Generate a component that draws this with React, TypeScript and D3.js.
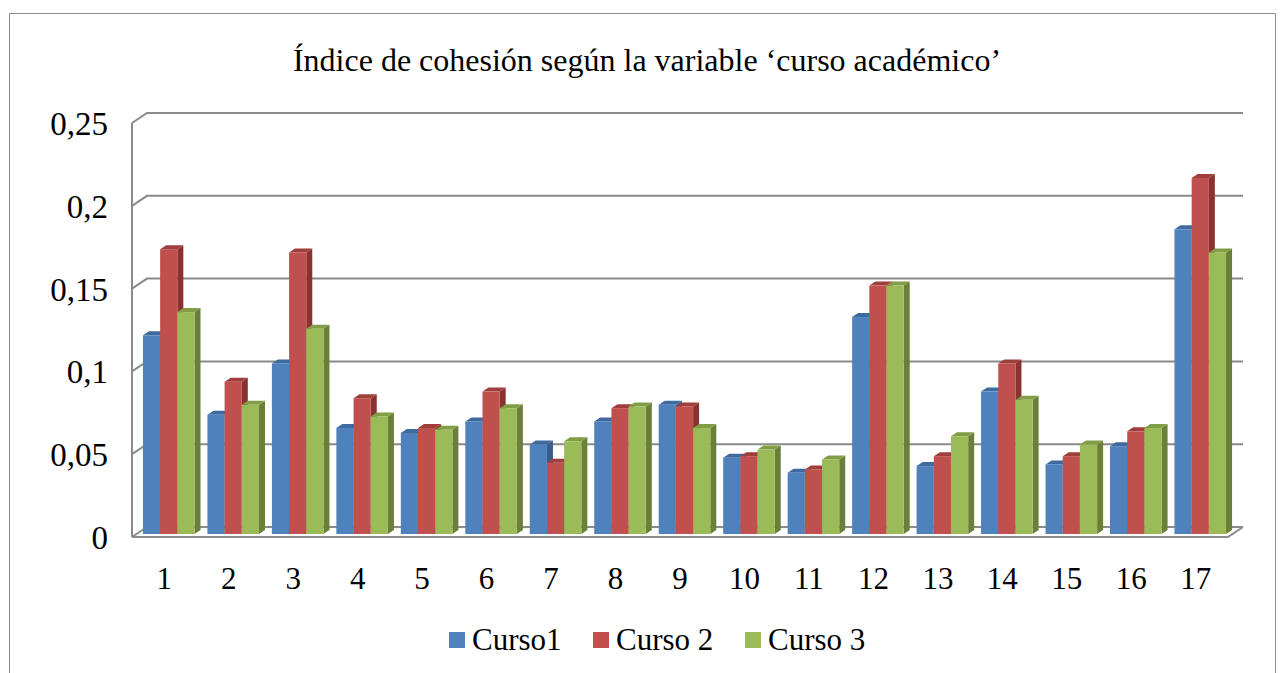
import React from 'react';
import * as d3 from 'd3';

const categories = ['1','2','3','4','5','6','7','8','9','10','11','12','13','14','15','16','17'];
const curso1 = [0.12, 0.072, 0.103, 0.064, 0.061, 0.068, 0.054, 0.068, 0.078, 0.046, 0.037, 0.131, 0.041, 0.086, 0.042, 0.053, 0.184];
const curso2 = [0.172, 0.092, 0.17, 0.082, 0.064, 0.086, 0.043, 0.076, 0.077, 0.047, 0.039, 0.15, 0.047, 0.103, 0.047, 0.062, 0.215];
const curso3 = [0.134, 0.078, 0.124, 0.071, 0.063, 0.076, 0.056, 0.077, 0.064, 0.051, 0.045, 0.15, 0.059, 0.081, 0.054, 0.064, 0.17];
const seriesNames = ['Curso1', 'Curso 2', 'Curso 3'];
const yTicks = [0, 0.05, 0.1, 0.15, 0.2, 0.25];
const yTickLabels = ['0', '0,05', '0,1', '0,15', '0,2', '0,25'];
const title = 'Índice de cohesión según la variable ‘curso académico’';

const faceColors = [
  { front: '#4F81BD', side: '#385D8A', top: '#3E6A9E' },
  { front: '#C0504D', side: '#8A3230', top: '#A03E3B' },
  { front: '#9BBB59', side: '#6A7F3A', top: '#819D46' },
];

const W = 1285, H = 673;
const FONT = '"Liberation Serif", "Times New Roman", serif';

export default function App() {
  const series = [curso1, curso2, curso3];
  const frontLeft = 132, frontRight = 1228;
  const depthDx = 15, depthDy = -10;
  const yFront = d3.scaleLinear().domain([0, 0.25]).range([537, 123]);
  const yBack = (v: number) => yFront(v) + depthDy;
  const x = d3.scaleBand<string>().domain(categories).range([frontLeft, frontRight]).paddingInner(0.2).paddingOuter(0.1);
  const planeDx = 4.5, planeDy = -3;
  const barDx = 6, barDy = -4;
  const yBar = (v: number) => yFront(v) + planeDy;
  const bw = x.bandwidth() / 3;
  const gridColor = '#8A8A8A';

  const bars: JSX.Element[] = [];
  categories.forEach((c, i) => {
    series.forEach((s, j) => {
      const x0 = (x(c) as number) + planeDx + j * bw;
      const x1 = x0 + bw;
      const yt = yBar(s[i]);
      const yb = yBar(0);
      const col = faceColors[j];
      bars.push(
        <g key={`${i}-${j}`}>
          <polygon points={`${x1},${yb} ${x1 + barDx},${yb + barDy} ${x1 + barDx},${yt + barDy} ${x1},${yt}`} fill={col.side} />
          <polygon points={`${x0},${yt} ${x1},${yt} ${x1 + barDx},${yt + barDy} ${x0 + barDx},${yt + barDy}`} fill={col.top} />
          <rect x={x0} y={yt} width={bw} height={yb - yt} fill={col.front} />
        </g>
      );
    });
  });

  const legendX = [449, 593, 745];

  return (
    <svg width={W} height={H} style={{ position: 'absolute', left: 0, top: 0, background: '#fff' }} fontFamily={FONT}>
      <rect x={0} y={0} width={W} height={H} fill="#fff" />
      {/* outer border */}
      <path d={`M9.5,673 L9.5,13.5 L1275.5,13.5 L1275.5,673`} fill="none" stroke="#8C8C8C" strokeWidth={1} />
      <text x={647} y={71} textAnchor="middle" fontSize={32} fill="#000">{title}</text>

      {/* gridlines */}
      {yTicks.map((t) => (
        <polyline key={t} points={`${frontLeft},${yFront(t)} ${frontLeft + depthDx},${yBack(t)} ${frontRight + depthDx},${yBack(t)}`}
          fill="none" stroke={gridColor} strokeWidth={2} />
      ))}
      {/* floor front edge */}
      <polyline points={`${frontLeft},${yFront(0)} ${frontRight},${yFront(0)} ${frontRight + depthDx},${yBack(0)}`} fill="none" stroke={gridColor} strokeWidth={2} />
      {/* left wall front edge */}
      <line x1={frontLeft} y1={yFront(0)} x2={frontLeft} y2={yFront(0.25)} stroke={gridColor} strokeWidth={2} />

      {bars}

      {yTicks.map((t, i) => (
        <text key={t} x={108} y={yFront(t) + 1} textAnchor="end" dominantBaseline="central" fontSize={33} fill="#000">{yTickLabels[i]}</text>
      ))}
      {categories.map((c) => (
        <text key={c} x={(x(c) as number) + x.bandwidth() / 2} y={589} textAnchor="middle" fontSize={31} fill="#000">{c}</text>
      ))}

      {seriesNames.map((n, j) => (
        <g key={n}>
          <rect x={legendX[j]} y={632} width={16} height={16} fill={faceColors[j].front} />
          <text x={legendX[j] + 23} y={650} fontSize={31} fill="#000">{n}</text>
        </g>
      ))}
    </svg>
  );
}
